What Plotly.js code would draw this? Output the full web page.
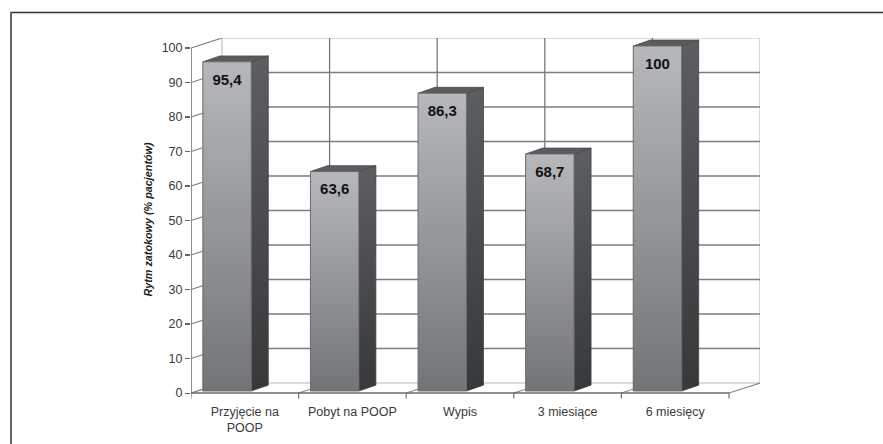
<!DOCTYPE html>
<html>
<head>
<meta charset="utf-8">
<script src="https://cdn.plot.ly/plotly-3.0.1.min.js"></script>
<style>html,body{margin:0;padding:0;background:#fff}#chart{width:883px;height:444px}</style>
</head>
<body>
<div id="chart"></div>
<script>
// Sinus rhythm share of patients at each stage of follow-up
const categories = ['Przyjęcie na<br>POOP', 'Pobyt na POOP', 'Wypis', '3 miesiące', '6 miesięcy'];
const sinusRhythm = [95.4, 63.6, 86.3, 68.7, 100];
const yTicks = [0, 10, 20, 30, 40, 50, 60, 70, 80, 90, 100];
const yTitle = 'Rytm zatokowy (% pacjentów)';

// Pseudo-3D projection, in axis units
const wallDx = 0.288, wallDy = 2.9;      // depth of the back wall
const barDx = 0.158, barDy = 1.7;        // depth of each bar
const barStart = 0.11, barWidth = 0.45;  // bar position inside its category
const barLift = 0.6;                     // bars stand slightly behind the front edge
const labelDrop = 5.5;                   // value label distance below the bar top

const n = categories.length;
const xMax = n + wallDx, yMin = -2.3, yMax = 100 + wallDy;
const font = 'Liberation Sans, Arial, sans-serif';
const slots = categories.map((_, i) => i);

function segments(list) {
  const x = [], y = [];
  list.forEach(s => { x.push(s[0], s[2], null); y.push(s[1], s[3], null); });
  return {x, y};
}
function lines(list, color, width) {
  const s = segments(list);
  return {x: s.x, y: s.y, mode: 'lines', line: {color, width}, cliponaxis: false, hoverinfo: 'skip', showlegend: false};
}

const innerTicks = yTicks.filter(v => v > 0 && v < 100);
const boundaries = [0, 1, 2, 3, 4, 5];

// Back wall and side wall
const traces = [
  lines([[wallDx, wallDy, wallDx, 100 + wallDy], [n + wallDx, wallDy, n + wallDx, 100 + wallDy],
         [wallDx, wallDy, n + wallDx, wallDy], [wallDx, 100 + wallDy, n + wallDx, 100 + wallDy]], '#cfcfcf', 1.6),
  lines(innerTicks.map(v => [wallDx, v + wallDy, n + wallDx, v + wallDy]), '#7c7d80', 1.4),
  lines(boundaries.slice(1, -1).map(b => [b + wallDx, wallDy, b + wallDx, 100 + wallDy]), '#77787a', 1.3),
  lines(yTicks.map(v => [0, v, wallDx, v + wallDy]), '#77787a', 1.1),
  lines(boundaries.map(b => [b, 0, b + wallDx, wallDy]), '#8a8a8a', 1.1),
  lines(boundaries.map(b => [b, 0, b, -1.6]), '#666666', 1.1),
  lines([[0, 0, n, 0], [0, 0, 0, 100]], '#6a6a6a', 1.5)
];

// Bars: front face, side face and top face
slots.forEach(i => {
  const v = sinusRhythm[i];
  const l = i + barStart, r = l + barWidth, b = barLift, t = v + barLift;
  traces.push({
    x: [r, r + barDx, r + barDx, r, r], y: [b, b + barDy, t + barDy, t, b],
    mode: 'lines', fill: 'toself', line: {color: '#3f4042', width: 0.8},
    fillgradient: {type: 'vertical', colorscale: [[0, '#36383a'], [1, '#5d5e62']]},
    hoverinfo: 'skip', showlegend: false
  });
  traces.push({
    x: [l, r, r + barDx, l + barDx, l], y: [t, t, t + barDy, t + barDy, t],
    mode: 'lines', fill: 'toself', fillcolor: '#5a5b5e', line: {color: '#4a4b4d', width: 0.8},
    hoverinfo: 'skip', showlegend: false
  });
  traces.push({
    x: [l, r, r, l, l], y: [b, b, t, t, b],
    mode: 'lines', fill: 'toself', line: {color: '#6a6b6d', width: 1},
    fillgradient: {type: 'vertical', colorscale: [[0, '#737477'], [1, '#b6b8bb']]},
    hoverinfo: 'skip', showlegend: false
  });
});

// Value labels on the front faces
traces.push({
  x: slots.map(i => i + barStart + barWidth / 2),
  y: sinusRhythm.map(v => v + barLift - labelDrop),
  mode: 'text',
  text: sinusRhythm.map(v => String(v).replace('.', ',')),
  textposition: 'middle center',
  textfont: {family: font, size: 15, color: '#111111', weight: 'bold'},
  hoverinfo: 'skip', showlegend: false
});

const margin = {l: 191, r: 123, t: 38, b: 43};
const plotW = 883 - margin.l - margin.r, plotH = 444 - margin.t - margin.b;
const paperX = px => (px - margin.l) / plotW;
const paperY = py => (444 - margin.b - py) / plotH;

const layout = {
  width: 883, height: 444, margin,
  paper_bgcolor: '#ffffff', plot_bgcolor: '#ffffff',
  showlegend: false, hovermode: false,
  xaxis: {
    range: [0, xMax], showgrid: false, zeroline: false, showline: false, ticks: '',
    tickmode: 'array', tickvals: slots.map(i => i + 0.5), ticktext: categories, tickangle: 0,
    tickfont: {family: font, size: 12.5, color: '#3a3a3a'}, ticklabelstandoff: 1
  },
  yaxis: {
    range: [yMin, yMax], showgrid: false, zeroline: false, showline: false,
    tickmode: 'array', tickvals: yTicks, ticks: 'outside', ticklen: 5, tickcolor: '#666666', tickwidth: 1.1,
    tickfont: {family: font, size: 12.5, color: '#3a3a3a'},
    title: {text: yTitle, standoff: 6, font: {family: font, size: 10.8, color: '#222222', weight: 'bold', style: 'italic'}}
  },
  // Thin page frame along the top and left
  shapes: [
    {type: 'line', xref: 'paper', yref: 'paper', x0: paperX(10), x1: paperX(883), y0: paperY(12.5), y1: paperY(12.5), line: {color: '#333333', width: 1.6}},
    {type: 'line', xref: 'paper', yref: 'paper', x0: paperX(11), x1: paperX(11), y0: paperY(12), y1: paperY(444), line: {color: '#666666', width: 2}}
  ]
};

Plotly.newPlot('chart', traces, layout, {displayModeBar: false, staticPlot: true});
</script>
</body>
</html>
